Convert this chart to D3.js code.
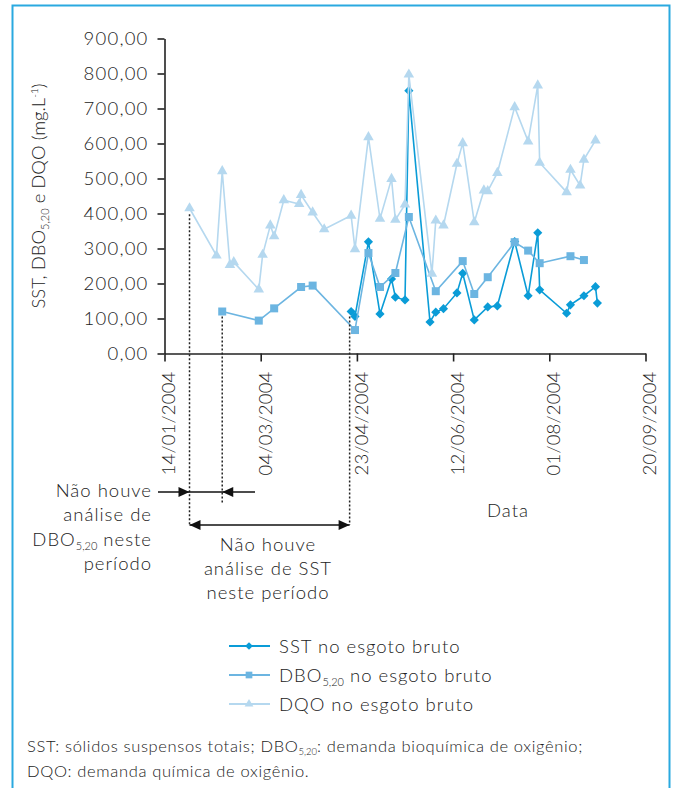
<!DOCTYPE html>
<html><head><meta charset="utf-8">
<script src="https://cdn.jsdelivr.net/npm/d3@7"></script>
<style>
html,body{margin:0;padding:0;background:#fff;}
svg{display:block;font-family:"Lato","Open Sans",sans-serif;font-weight:300;}
</style></head>
<body>
<svg id="chart" width="675" height="788"></svg>
<script>
// ---- data ----
const dates = ["27/01/2004","10/02/2004","13/02/2004","17/02/2004","19/02/2004","03/03/2004","05/03/2004","09/03/2004","11/03/2004","16/03/2004","24/03/2004","25/03/2004","31/03/2004","06/04/2004","20/04/2004","22/04/2004","29/04/2004","05/05/2004","11/05/2004","13/05/2004","18/05/2004","20/05/2004","31/05/2004","01/06/2004","03/06/2004","07/06/2004","14/06/2004","17/06/2004","23/06/2004","28/06/2004","30/06/2004","05/07/2004","14/07/2004","21/07/2004","26/07/2004","27/07/2004","10/08/2004","12/08/2004","17/08/2004","19/08/2004","25/08/2004","26/08/2004"];
const sst = [null,null,null,null,null,null,null,null,null,null,null,null,null,null,120,106,319,113,213,161,153,751,90,null,118,128,173,229,96,null,133,136,320,165,345,182,115,139,null,165,191,144];
const dbo = [null,null,120,null,null,94,null,null,129,null,null,190,194,null,null,67,287,190,null,230,null,390,null,null,178,null,null,264,170,null,218,null,318,294,null,258,null,278,null,267,null,null];
const dqo = [415,280,521,253,261,183,282,366,335,438,427,453,403,355,394,298,618,385,499,382,426,797,null,228,380,366,542,601,375,466,464,516,704,606,766,545,461,525,480,554,609,null];
const yTicks = [0,100,200,300,400,500,600,700,800,900];
const xTickLabels = ["14/01/2004","04/03/2004","23/04/2004","12/06/2004","01/08/2004","20/09/2004"];
const seriesNames = ["SST","DBO","DQO"];

const parse = d3.timeParse("%d/%m/%Y");
const fmtDate = d3.timeFormat("%d/%m/%Y");
const ptFmt = d3.formatLocale({decimal:",",thousands:".",grouping:[3],currency:["R$",""]}).format(".2f");

const svg = d3.select("#chart");
const colors = {SST:"#0a9cd7", DBO:"#6cb5e1", DQO:"#b5d8ef"};

// frame
svg.append("path").attr("d","M12.5,788 V5.5 H669.5 V788")
  .attr("fill","none").attr("stroke","#2aa9e0").attr("stroke-width",2);

const x = d3.scaleTime().domain([parse(xTickLabels[0]), parse(xTickLabels[5])]).range([164.5, 645.5]);
const y = d3.scaleLinear().domain([0,900]).range([353.5, 38.5]);

const tStyle = sel => sel.attr("font-size",18.5).attr("fill","#222").attr("font-family","Lato").attr("font-weight",300).attr("letter-spacing",1);

// y axis
const gy = svg.append("g").attr("transform","translate(164.5,0)")
  .call(d3.axisLeft(y).tickValues(yTicks).tickSize(7).tickSizeOuter(0).tickPadding(9).tickFormat(ptFmt));
gy.selectAll("text").call(tStyle).attr("letter-spacing",1.2);
gy.selectAll("line,path").attr("stroke","#222").attr("stroke-width",1.6);

// x axis
const gx = svg.append("g").attr("transform","translate(0,353.5)")
  .call(d3.axisBottom(x).tickValues(xTickLabels.map(parse)).tickSize(8).tickSizeOuter(0).tickFormat(fmtDate));
gx.selectAll("line,path").attr("stroke","#222").attr("stroke-width",1.6);
gx.selectAll("text").call(tStyle).attr("letter-spacing",0.2)
  .attr("transform","rotate(-90)").attr("text-anchor","end")
  .attr("x",-18).attr("y",4).attr("dy","0.35em");

// series
function pts(vals){ return dates.map((d,i)=>({d:parse(d), v:vals[i]})).filter(p=>p.v!==null); }
const line = d3.line().x(p=>x(p.d)).y(p=>y(p.v));
const series = [
  {name:"SST", vals:sst, sym:d3.symbolSquare, size:42, rot:45},
  {name:"DBO", vals:dbo, sym:d3.symbolSquare, size:64, rot:0},
  {name:"DQO", vals:dqo, sym:d3.symbolTriangle, size:48, rot:0}
];
series.forEach(s=>{
  const p = pts(s.vals);
  const g = svg.append("g");
  g.append("path").attr("d",line(p)).attr("fill","none").attr("stroke",colors[s.name]).attr("stroke-width",1.6);
  g.selectAll("path.m").data(p).join("path").attr("class","m")
    .attr("d",d3.symbol().type(s.sym).size(s.size))
    .attr("transform",q=>`translate(${x(q.d)},${y(q.v)}) rotate(${s.rot})`)
    .attr("fill",colors[s.name]);
});

// annotations
const firstDQO = pts(dqo)[0], firstDBO = pts(dbo)[0], firstSST = pts(sst)[0];
const dot = (xx,y0,y1)=>svg.append("line").attr("x1",xx).attr("x2",xx).attr("y1",y0).attr("y2",y1)
  .attr("stroke","#222").attr("stroke-width",1.5).attr("stroke-dasharray","2,2");
dot(x(firstDQO.d), y(firstDQO.v)+6, 525);
dot(x(firstDBO.d), y(firstDBO.v)+5, 503);
dot(x(firstSST.d)-1.5, y(firstSST.v)+5, 525);

function head(tx,ty,dir){ // dir 1 = pointing right, -1 = left
  svg.append("path").attr("d",`M${tx},${ty} L${tx-11*dir},${ty-5} L${tx-11*dir},${ty+5} Z`).attr("fill","#111");
}
const xa = x(firstDQO.d), xb = x(firstDBO.d), xc = x(firstSST.d)-1.5;
svg.append("line").attr("x1",158).attr("x2",255).attr("y1",492).attr("y2",492).attr("stroke","#111").attr("stroke-width",1.5);
head(xa,492,1); head(xb,492,-1);
svg.append("line").attr("x1",xa).attr("x2",xc).attr("y1",525).attr("y2",525).attr("stroke","#111").attr("stroke-width",1.5);
head(xa,525,-1); head(xc,525,1);

const t1 = svg.append("text").attr("text-anchor","end").call(tStyle);
t1.append("tspan").attr("x",152).attr("y",497).text("Não houve");
t1.append("tspan").attr("x",152).attr("y",521).text("análise de");
const l3 = t1.append("tspan").attr("x",152).attr("y",546);
l3.append("tspan").text("DBO");
l3.append("tspan").attr("font-size",11).attr("letter-spacing",0).attr("dy",4).text("5,20");
l3.append("tspan").attr("dy",-4).text(" neste");
t1.append("tspan").attr("x",152).attr("y",570).text("período");

const t2 = svg.append("text").attr("text-anchor","middle").call(tStyle);
t2.append("tspan").attr("x",268).attr("y",551).text("Não houve");
t2.append("tspan").attr("x",268).attr("y",575).text("análise de SST");
t2.append("tspan").attr("x",268).attr("y",599).text("neste período");

svg.append("text").attr("x",508).attr("y",517).attr("text-anchor","middle").call(tStyle).text("Data");

// y label
const yl = svg.append("text").attr("transform","translate(45,196) rotate(-90)").attr("text-anchor","middle").call(tStyle).attr("letter-spacing",0);
yl.append("tspan").text("SST, DBO");
yl.append("tspan").attr("font-size",11).attr("dy",4).text("5,20");
yl.append("tspan").attr("dy",-4).text(" e DQO (mg.L");
yl.append("tspan").attr("font-size",10).attr("dy",-7).text("-1");
yl.append("tspan").attr("dy",7).text(")");

// legend
const legY = [646,675,704];
series.forEach((s,i)=>{
  const g = svg.append("g").attr("transform",`translate(0,${legY[i]})`);
  g.append("line").attr("x1",229).attr("x2",270).attr("stroke",colors[s.name]).attr("stroke-width",2);
  g.append("path").attr("d",d3.symbol().type(s.sym).size(s.size*0.7)).attr("transform",`translate(249,0) rotate(${s.rot})`).attr("fill",colors[s.name]);
  const t = g.append("text").attr("x",279).attr("y",6.5).call(tStyle);
  if(s.name==="DBO"){
    t.append("tspan").text("DBO");
    t.append("tspan").attr("font-size",11).attr("letter-spacing",0).attr("dy",4).text("5,20");
    t.append("tspan").attr("dy",-4).text(" no esgoto bruto");
  } else t.text(s.name+" no esgoto bruto");
});

// footnote
const fn = svg.append("text").attr("font-size",16.5).attr("fill","#222").attr("font-family","Lato").attr("font-weight",300).attr("letter-spacing",0.65);
const f1 = fn.append("tspan").attr("x",27).attr("y",752);
f1.append("tspan").text("SST: sólidos suspensos totais; DBO");
f1.append("tspan").attr("font-size",9.5).attr("letter-spacing",0).attr("dy",3).text("5,20");
f1.append("tspan").attr("dy",-3).text(": demanda bioquímica de oxigênio;");
fn.append("tspan").attr("x",27).attr("y",777).text("DQO: demanda química de oxigênio.");
</script>
</body></html>
